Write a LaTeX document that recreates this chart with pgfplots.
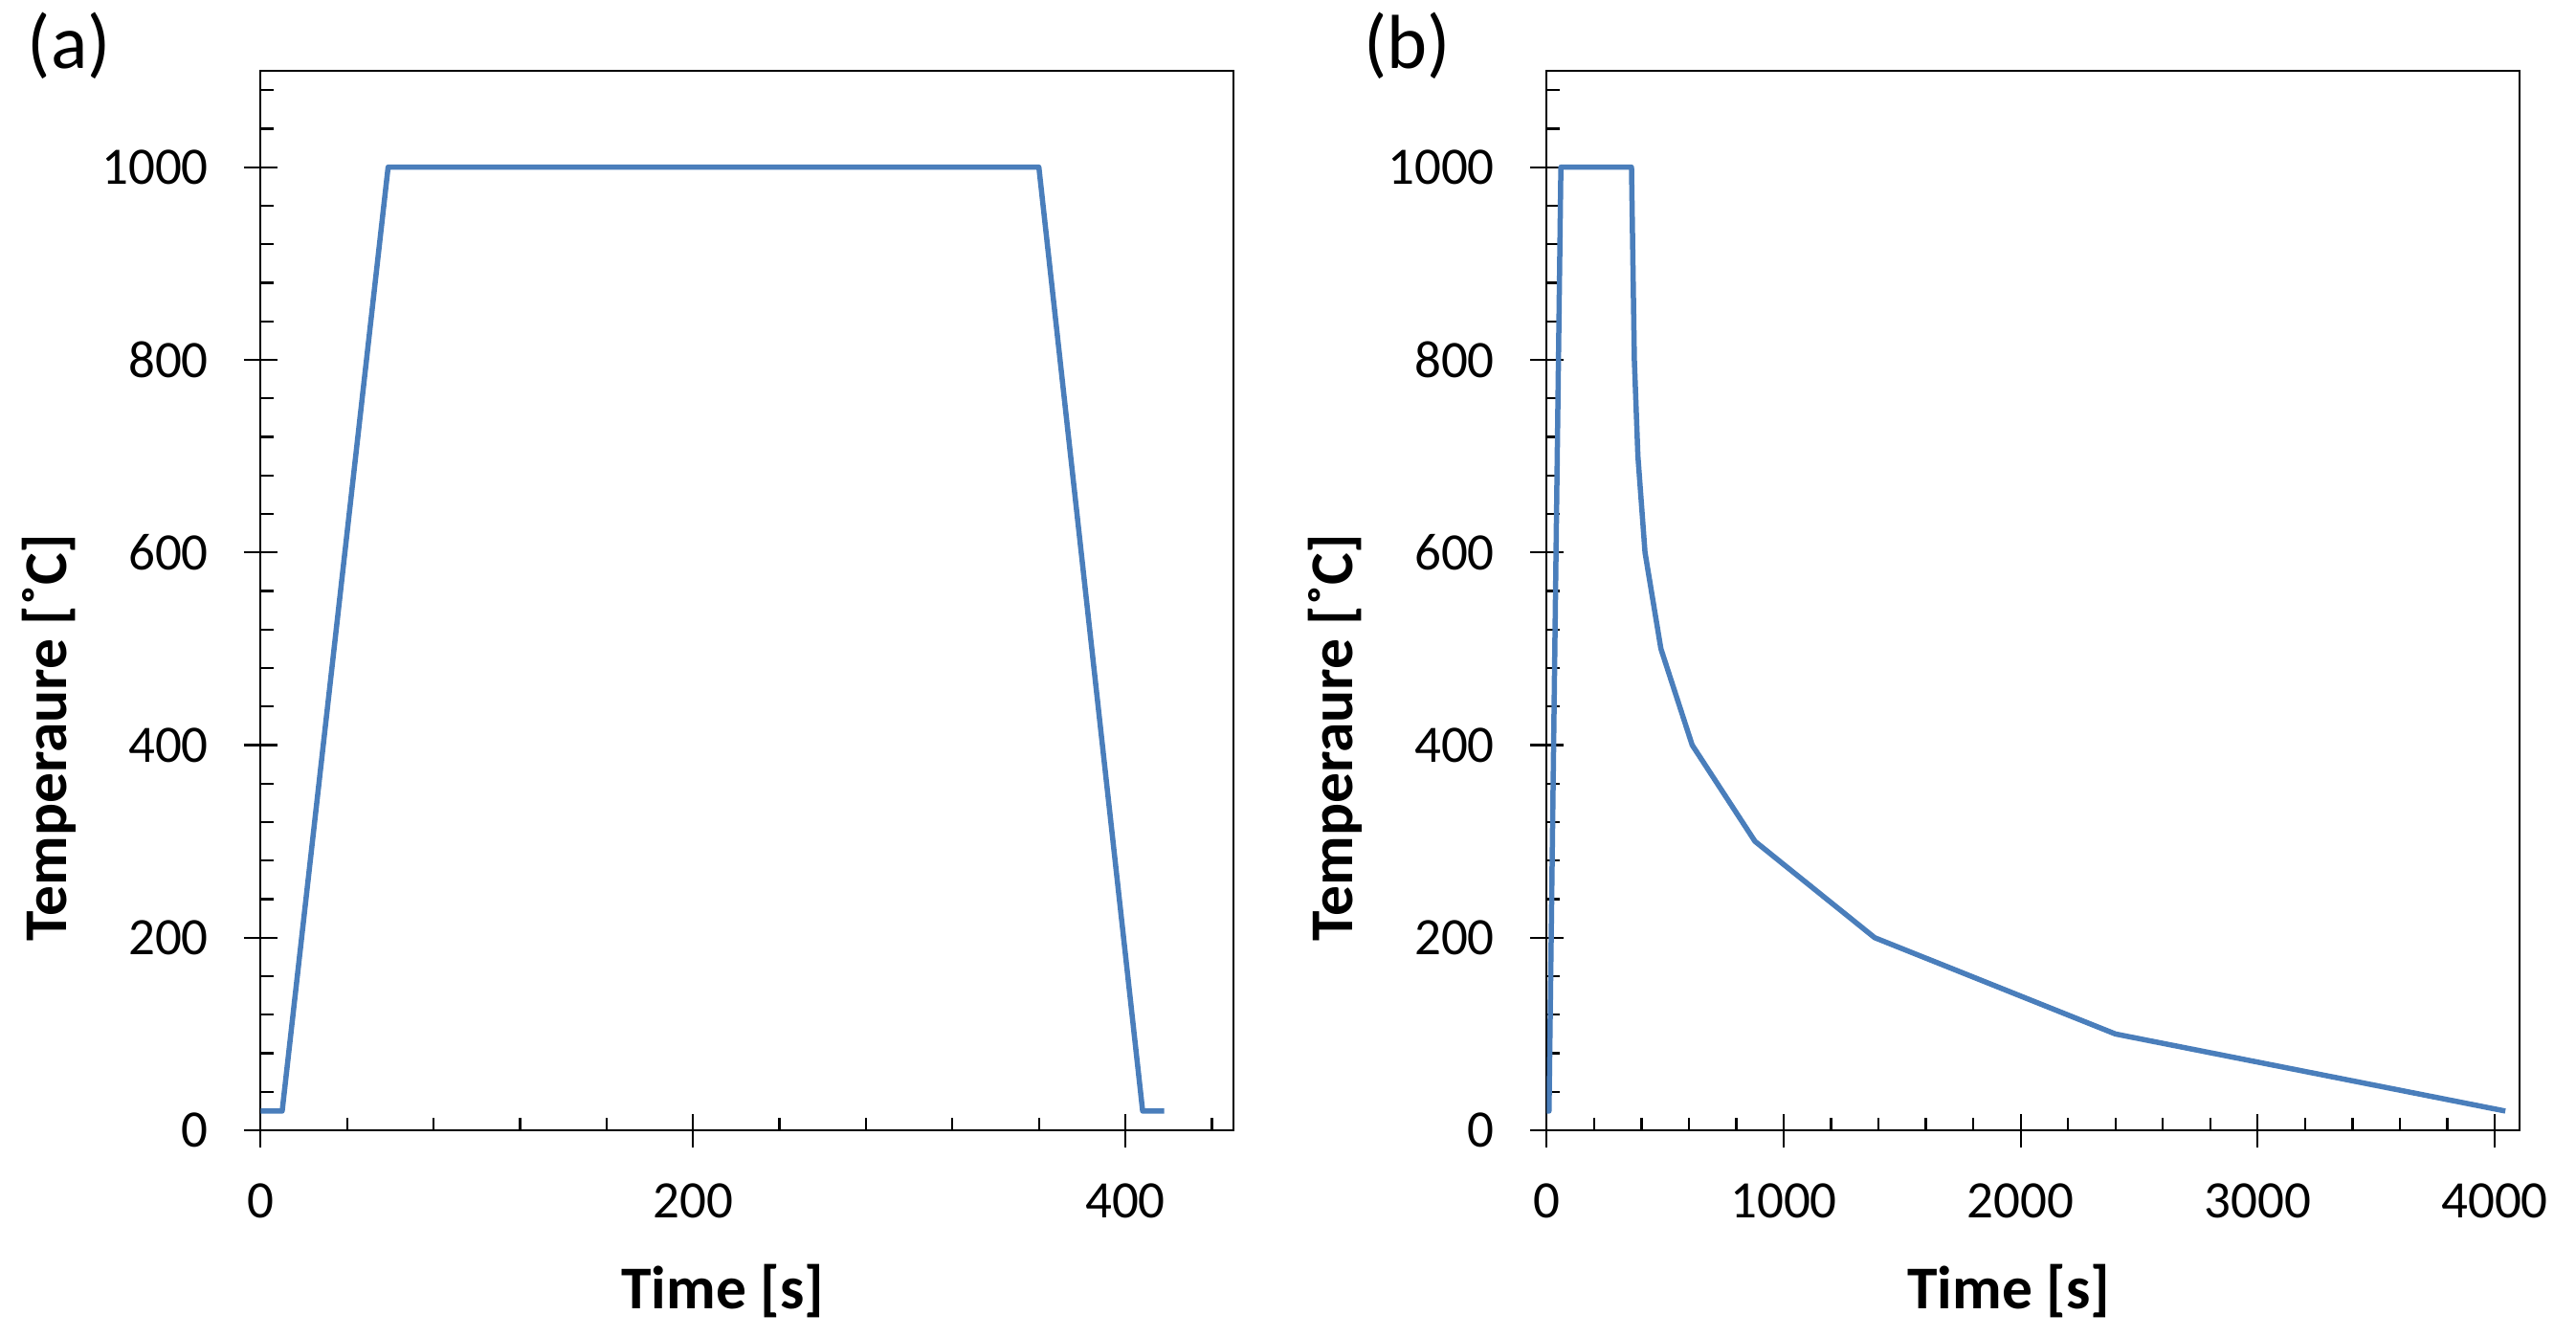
\documentclass[border=0pt]{standalone}
\usepackage{pgfplots}
\pgfplotsset{compat=1.18}
\usepackage{fontspec}
\setmainfont{Carlito}
\definecolor{lineblue}{RGB}{74,126,187}
\pgfplotsset{
  myax/.style={
    scale only axis, width=203.34pt, height=221.4pt,
    axis line style={line width=0.45pt},
    xtick pos=left, ytick pos=left,
    tick align=inside,
    major tick length=3.5pt, minor tick length=2.7pt,
    tick style={black, line width=0.45pt},
    ymin=0, ymax=1100, ytick={0,200,...,1200}, minor y tick num=4,
    extra y ticks={0,200,400,600,800,1000}, extra y tick labels={},
    extra x tick labels={},
    extra tick style={tick align=outside, major tick length=3.5pt},
    tick label style={font=\fontsize{11}{13}\selectfont},
    /pgf/number format/assume math mode=true,
    /pgf/number format/1000 sep={},
    scaled ticks=false,
    yticklabel style={anchor=east, inner sep=0pt, xshift=-10.7pt},
    xticklabel style={anchor=base, inner sep=0pt, yshift=-18.2pt},
    label style={font=\fontsize{12.7}{15}\selectfont\bfseries},
    xlabel={Time [s]}, ylabel={Temperaure [˚C]},
    xlabel style={at={(axis description cs:0.475,0)}, anchor=base, yshift=-37.2pt},
    ylabel style={at={(axis description cs:-0.199,0.371)}, anchor=base},
  }
}
\begin{document}
\begin{tikzpicture}
\useasboundingbox (0pt,0pt) rectangle (538.4pt,-279.2pt);
\begin{axis}[myax, at={(54.46pt,-236.2pt)}, anchor=south west,
  xmin=0, xmax=450, xtick={0,200,400,600}, minor x tick num=4,
  extra x ticks={0,200,400}]
\addplot[lineblue, line width=1.1pt, line join=round] coordinates {
(0,20) (10,20) (59,1000) (360,1000) (408,20) (418,20)};
\end{axis}
\begin{axis}[myax, at={(323.26pt,-236.2pt)}, anchor=south west,
  xmin=0, xmax=4105, xtick={0,1000,...,5000}, minor x tick num=4,
  extra x ticks={0,1000,2000,3000,4000}]
\addplot[lineblue, line width=1.1pt, line join=round] coordinates {
(0,20) (10,20) (60,1000) (358,1000) (370,800) (385,700) (415,600) (482,500) (614,400) (879,300) (1384,200) (2400,100) (4045,20)};
\end{axis}
\node[anchor=base west, inner sep=0pt, font=\fontsize{16}{19}\selectfont] at (5.6pt,-14.2pt) {(a)};
\node[anchor=base west, inner sep=0pt, font=\fontsize{16}{19}\selectfont] at (284.8pt,-14.2pt) {(b)};
\end{tikzpicture}
\end{document}
